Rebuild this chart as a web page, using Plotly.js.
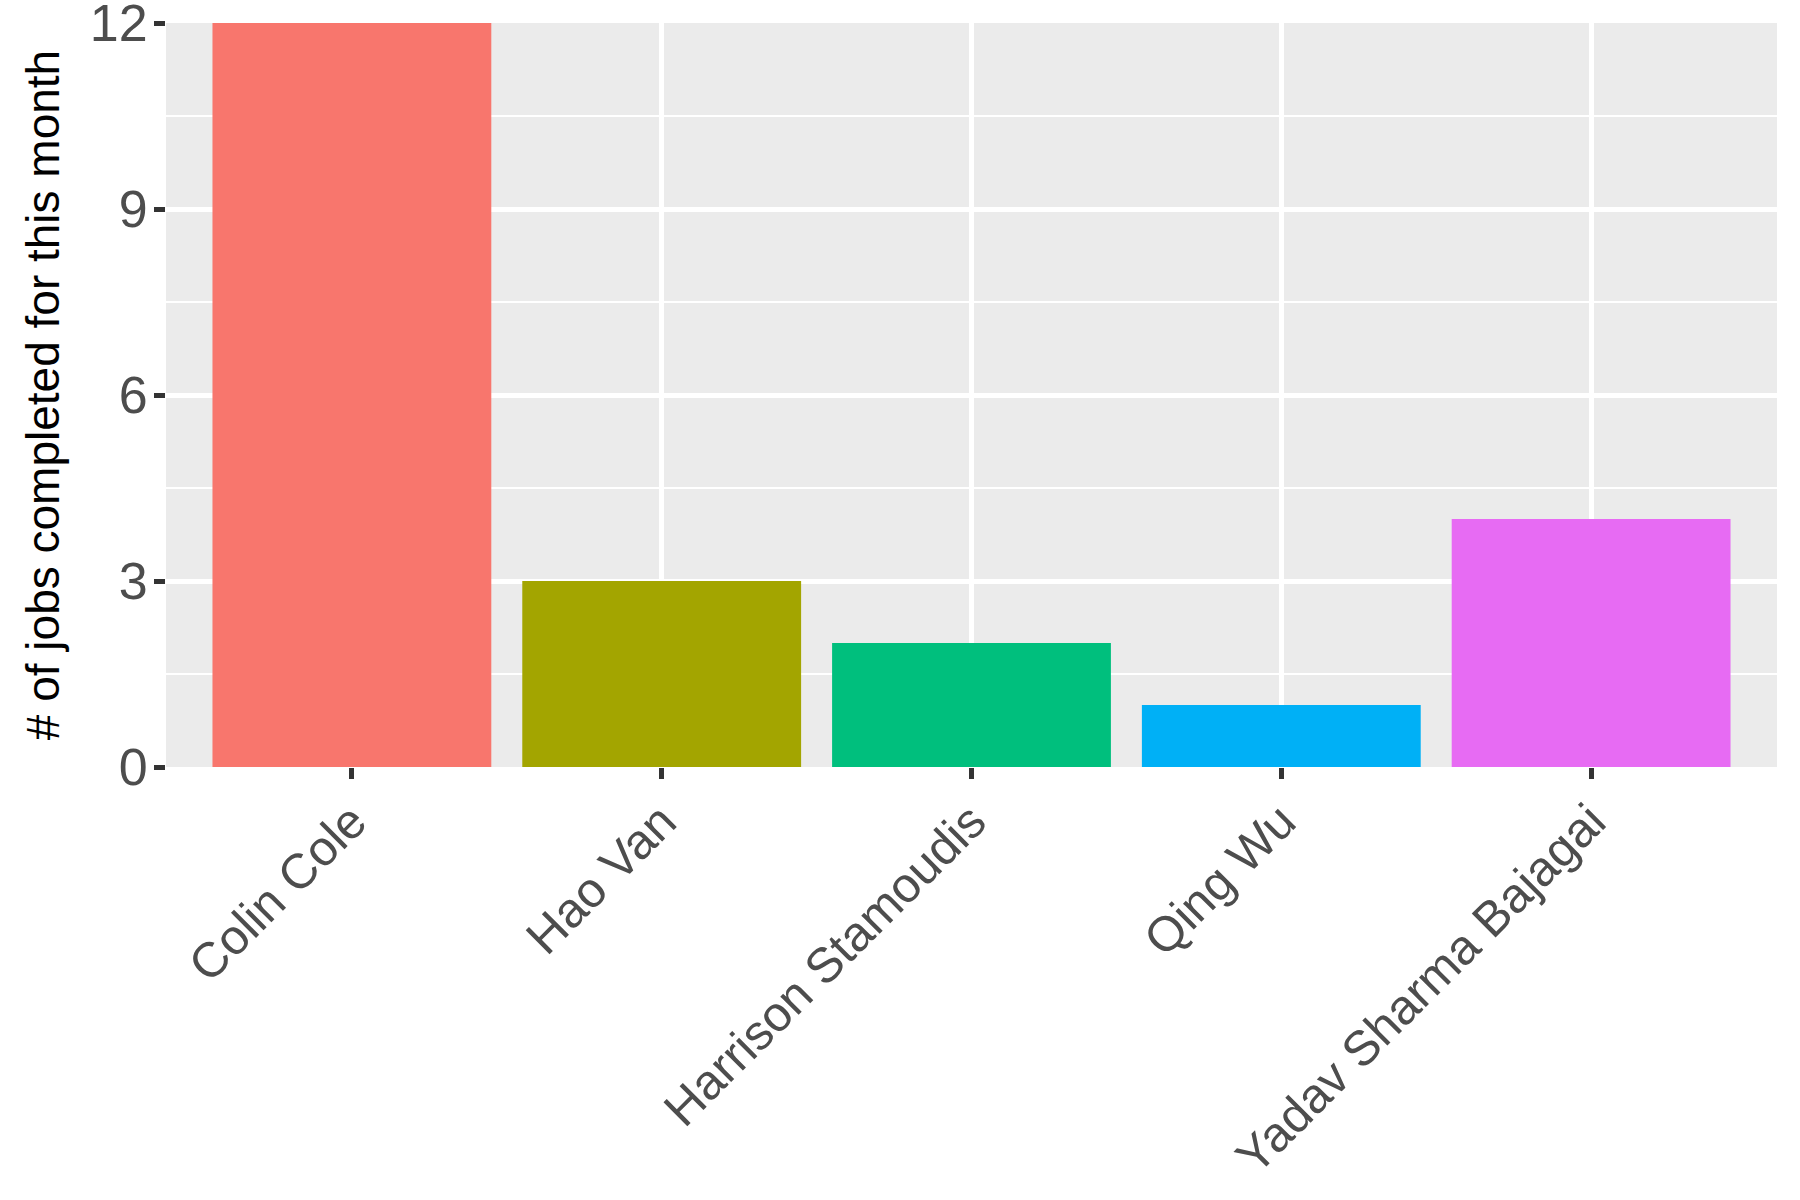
<!DOCTYPE html>
<html>
<head>
<meta charset="utf-8">
<script src="https://cdn.plot.ly/plotly-3.0.1.min.js"></script>
<style>html,body{margin:0;padding:0;background:#fff;}#chart{width:1800px;height:1200px;}</style>
</head>
<body>
<div id="chart"></div>
<script>
const workers = ["Colin Cole", "Hao Van", "Harrison Stamoudis", "Qing Wu", "Yadav Sharma Bajagai"];
const jobsCompleted = [12, 3, 2, 1, 4];
const barColors = ["#F8766D", "#A3A500", "#00BF7D", "#00B0F6", "#E76BF3"];
const yTickValues = [0, 3, 6, 9, 12];
const yTitle = "# of jobs completed for this month";

const trace = {
  type: "bar",
  x: workers,
  y: jobsCompleted,
  marker: {color: barColors, line: {width: 0}},
  width: 0.9,
  hoverinfo: "x+y"
};

const layout = {
  width: 1800,
  height: 1200,
  margin: {l: 166, r: 23, t: 23, b: 433},
  paper_bgcolor: "#FFFFFF",
  plot_bgcolor: "#EBEBEB",
  showlegend: false,
  font: {family: "Liberation Sans, Arial, sans-serif", color: "#4D4D4D"},
  xaxis: {
    type: "category",
    range: [-0.6, 4.6],
    showgrid: true,
    gridcolor: "#FFFFFF",
    gridwidth: 5,
    zeroline: false,
    showline: false,
    ticks: "outside",
    ticklen: 11,
    tickwidth: 5,
    tickcolor: "#333333",
    tickangle: -45,
    tickfont: {size: 49, color: "#4D4D4D"},
    ticklabelstandoff: -6,
    ticklabeloverflow: "allow",
    fixedrange: true
  },
  yaxis: {
    range: [0, 12],
    tickvals: yTickValues,
    ticktext: yTickValues.map(String),
    showgrid: true,
    gridcolor: "#FFFFFF",
    gridwidth: 5,
    zeroline: false,
    showline: false,
    ticks: "outside",
    ticklen: 11,
    tickwidth: 5,
    tickcolor: "#333333",
    tickfont: {size: 52, color: "#4D4D4D"},
    ticklabelstandoff: -4,
    ticklabeloverflow: "allow",
    minor: {dtick: 1.5, tick0: 0, showgrid: true, gridcolor: "#FFFFFF", gridwidth: 2.5, ticks: ""},
    title: {text: yTitle, font: {size: 46, color: "#000000"}, standoff: 15},
    fixedrange: true
  },
  bargap: 0.1
};

Plotly.newPlot("chart", [trace], layout, {displayModeBar: false, staticPlot: true});
</script>
</body>
</html>
